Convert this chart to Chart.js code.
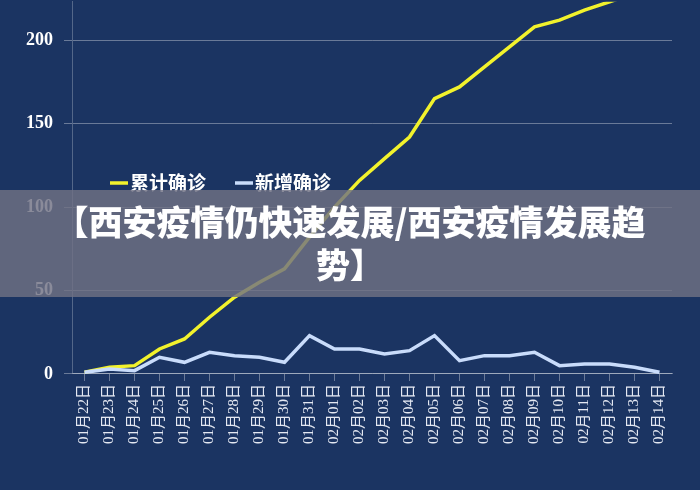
<!DOCTYPE html>
<html>
<head>
<meta charset="utf-8">
<script src="https://cdn.jsdelivr.net/npm/chart.js@4.4.1/dist/chart.umd.min.js"></script>
<style>
  html, body { margin: 0; padding: 0; background: #1b3462; }
  #wrap { position: relative; width: 700px; height: 490px; overflow: hidden; background: #1b3462; }
  #wrap canvas { position: absolute; left: 0; top: -20px; }
  #banner {
    position: absolute; left: 0; top: 190px; width: 700px; height: 107px;
    background: rgba(112, 114, 132, 0.82);
    color: #fff; text-align: center;
    font-family: "Noto Sans CJK SC", sans-serif; font-weight: 900; font-size: 34px;
    line-height: 43px; padding-top: 9px; box-sizing: border-box;
  }
</style>
</head>
<body>
<div id="wrap">
  <canvas id="chart" width="700" height="510"></canvas>
  <div id="banner">【西安疫情仍快速发展/西安疫情发展趋<br>势】</div>
</div>
<script>
// 日期
const dates = ['01月22日', '01月23日', '01月24日', '01月25日', '01月26日', '01月27日', '01月28日', '01月29日',
    '01月30日', '01月31日', '02月01日', '02月02日', '02月03日', '02月04日', '02月05日', '02月06日',
    '02月07日', '02月08日', '02月09日', '02月10日', '02月11日', '02月12日', '02月13日', '02月14日'];
// 累计确诊
const totalCases = [1, 4, 5, 15, 21, 34, 46, 55, 63, 82, 100, 116, 129, 142, 165, 172, 184, 196, 208, 212, 218, 223, 228, 233];
// 新增确诊
const newCases = [1, 3, 2, 10, 7, 13, 11, 10, 7, 23, 15, 15, 12, 14, 23, 8, 11, 11, 13, 5, 6, 6, 4, 1];
const yTicks = [0, 50, 100, 150, 200];

// legend drawn inside the plot, like the picture
const innerLegend = {
    id: 'innerLegend',
    afterDatasetsDraw(chart) {
        const ctx = chart.ctx;
        const y = 203; // canvas sits 20px higher than the page
        let x = 110;
        ctx.save();
        ctx.font = 'bold 19px "Noto Sans CJK SC", sans-serif';
        ctx.textBaseline = 'middle';
        chart.data.datasets.slice().reverse().forEach(ds => {
            ctx.strokeStyle = ds.borderColor;
            ctx.lineWidth = 3.5;
            ctx.beginPath();
            ctx.moveTo(x, y);
            ctx.lineTo(x + 18, y);
            ctx.stroke();
            ctx.fillStyle = '#ffffff';
            ctx.fillText(ds.label, x + 20, y);
            x += 125;
        });
        ctx.restore();
    }
};

const ctx = document.getElementById('chart').getContext('2d');
const chart = new Chart(ctx, {
    type: 'line',
    data: {
        labels: dates,
        datasets: [
            {
                label: '新增确诊',
                data: newCases,
                borderColor: '#c9dcfb',
                borderWidth: 3.5,
                pointRadius: 0,
                tension: 0,
                order: 0
            },
            {
                label: '累计确诊',
                data: totalCases,
                borderColor: '#f2f22c',
                borderWidth: 3.5,
                pointRadius: 0,
                tension: 0,
                order: 1
            }
        ]
    },
    options: {
        responsive: false,
        animation: false,
        layout: { padding: { top: 0, right: 28, bottom: 43, left: 15 } },
        plugins: {
            legend: { display: false },
            tooltip: { enabled: false }
        },
        scales: {
            x: {
                offset: true,
                grid: {
                    display: true,
                    drawOnChartArea: false,
                    color: 'rgba(255,255,255,0.35)',
                    tickLength: 7
                },
                border: { color: 'rgba(255,255,255,0.35)' },
                ticks: {
                    color: '#e4e8f2',
                    minRotation: 90,
                    maxRotation: 90,
                    autoSkip: false,
                    font: { family: '"Liberation Serif", "Noto Sans CJK SC", serif', size: 15 }
                }
            },
            y: {
                min: 0,
                max: 223,
                afterBuildTicks: scale => {
                    scale.ticks = yTicks.map(v => ({ value: v }));
                },
                grid: {
                    color: 'rgba(255,255,255,0.35)',
                    tickLength: 8
                },
                border: { color: 'rgba(255,255,255,0.25)' },
                ticks: {
                    color: '#ffffff',
                    padding: 11,
                    font: { family: '"Liberation Serif", serif', size: 18, weight: 'bold' }
                }
            }
        }
    },
    plugins: [innerLegend]
});
</script>
</body>
</html>
